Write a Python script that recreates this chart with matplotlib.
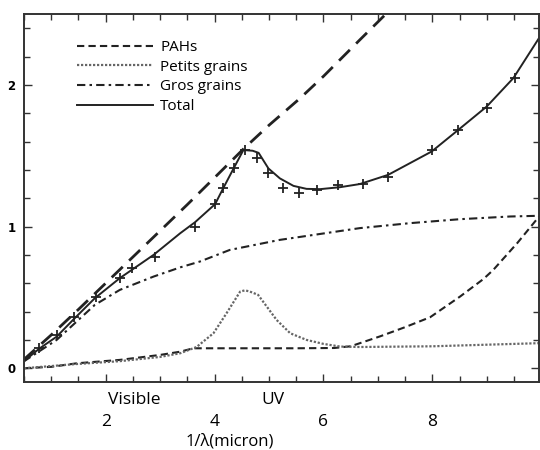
import matplotlib
matplotlib.use("Agg")
import matplotlib.pyplot as plt
from matplotlib.ticker import MultipleLocator

plt.rcParams["font.family"] = ["Open Sans", "DejaVu Sans"]

# Courbes (x = 1/lambda en micron^-1)
total_x = [0.49, 0.79, 1.10, 1.40, 1.80, 2.26, 2.88, 3.37, 3.64, 4.01, 4.16, 4.35,
           4.53, 4.70, 4.81, 4.99, 5.20, 5.45, 5.69, 5.94, 6.31, 6.67, 7.19, 7.99,
           8.48, 9.00, 9.49, 9.96]
total_y = [0.047, 0.141, 0.223, 0.341, 0.494, 0.636, 0.80, 0.953, 1.03, 1.158, 1.271, 1.41,
           1.54, 1.535, 1.52, 1.41, 1.34, 1.287, 1.266, 1.264, 1.278, 1.30, 1.365, 1.53,
           1.683, 1.847, 2.048, 2.33]

long_x = [0.49, 1.00, 1.50, 2.00, 2.50, 3.00, 3.50, 4.00, 4.53, 5.00, 5.57, 6.00, 6.67, 7.20]
long_y = [0.059, 0.235, 0.415, 0.60, 0.785, 0.97, 1.155, 1.345, 1.547, 1.715, 1.905, 2.06,
          2.318, 2.52]

gros_x = [0.49, 1.10, 1.80, 2.26, 2.88, 3.37, 3.73, 4.28, 5.20, 6.67, 7.59, 8.51, 9.43, 9.96]
gros_y = [0.047, 0.200, 0.447, 0.553, 0.647, 0.712, 0.753, 0.835, 0.906, 0.989, 1.024,
          1.052, 1.071, 1.076]

pah_x = [0.50, 1.00, 1.47, 2.26, 3.00, 3.37, 3.61, 4.50, 5.50, 6.20, 6.50, 7.04, 7.50,
         7.96, 8.51, 8.94, 9.12, 9.56, 9.96]
pah_y = [0.0, 0.01, 0.035, 0.059, 0.094, 0.117, 0.141, 0.141, 0.141, 0.143, 0.155, 0.225,
         0.29, 0.36, 0.506, 0.63, 0.694, 0.883, 1.07]

petits_x = [0.50, 1.47, 2.26, 3.00, 3.37, 3.67, 3.98, 4.22, 4.47, 4.56, 4.65, 4.80, 4.96,
            5.14, 5.39, 5.69, 6.00, 6.31, 6.67, 8.00, 9.96]
petits_y = [0.0, 0.03, 0.05, 0.08, 0.106, 0.15, 0.247, 0.388, 0.541, 0.55, 0.541, 0.518,
            0.435, 0.341, 0.247, 0.20, 0.172, 0.153, 0.15, 0.155, 0.177]

# Points observés (+)
obs_x = [0.78, 1.10, 1.42, 1.83, 2.27, 2.48, 2.91, 3.64, 4.01, 4.16, 4.35, 4.56, 4.78,
         4.99, 5.26, 5.56, 5.89, 6.26, 6.72, 7.18, 8.00, 8.48, 9.00, 9.52]
obs_y = [0.141, 0.235, 0.364, 0.506, 0.64, 0.706, 0.788, 0.996, 1.158, 1.271, 1.412,
         1.537, 1.483, 1.377, 1.271, 1.236, 1.257, 1.293, 1.302, 1.353, 1.537, 1.683,
         1.840, 2.048]

fig = plt.figure(figsize=(5.4, 4.5), dpi=100)
ax = fig.add_axes([24 / 540, 68 / 450, 515 / 540, 368 / 450])

ink = "#222222"
ax.plot(long_x, long_y, color=ink, lw=2.0, dashes=(5.5, 3.2))
ax.plot(pah_x, pah_y, color=ink, lw=1.5, dashes=(3.5, 2), label="PAHs")
ax.plot(petits_x, petits_y, color="#666666", lw=1.6, ls=(0, (1, 0.8)), label="Petits grains")
ax.plot(gros_x, gros_y, color=ink, lw=1.5, ls=(0, (4, 2, 1.2, 2)), label="Gros grains")
ax.plot(total_x, total_y, color=ink, lw=1.4, label="Total")
ax.plot(obs_x, obs_y, ls="none", marker="+", ms=7, mew=1.3, color=ink)

ax.set_xlim(0.5, 9.96)
ax.set_ylim(-0.097, 2.50)

ax.set_xticks([2, 4, 6, 8])
ax.xaxis.set_minor_locator(MultipleLocator(0.5))
ax.set_yticks([0, 1, 2])
ax.yaxis.set_minor_locator(MultipleLocator(0.2))
ax.tick_params(which="both", direction="in", top=True, right=True, color="#333333", width=1)
ax.tick_params(which="major", length=6)
ax.tick_params(which="minor", length=4)
ax.tick_params(axis="x", which="major", pad=23, labelsize=12.5)
ax.tick_params(axis="y", which="major", pad=6, labelsize=8.5)
for lab in ax.get_yticklabels():
    lab.set_fontweight("bold")
    lab.set_family("DejaVu Sans")
for sp in ax.spines.values():
    sp.set_linewidth(1.4)
    sp.set_color("#333333")

ax.text(2.52, -0.049, "Visible", transform=ax.get_xaxis_transform(),
        ha="center", va="center", fontsize=12.5)
ax.text(5.07, -0.049, "UV", transform=ax.get_xaxis_transform(),
        ha="center", va="center", fontsize=12.5)
ax.text(4.28, -0.161, "1/λ(micron)", transform=ax.get_xaxis_transform(),
        ha="center", va="center", fontsize=12)

ax.legend(loc="upper left", bbox_to_anchor=(0.103, 0.929), frameon=False,
          handlelength=5.0, handletextpad=0.45, labelspacing=0.3,
          borderpad=0, borderaxespad=0, fontsize=11)

fig.savefig("out.png", dpi=100)
